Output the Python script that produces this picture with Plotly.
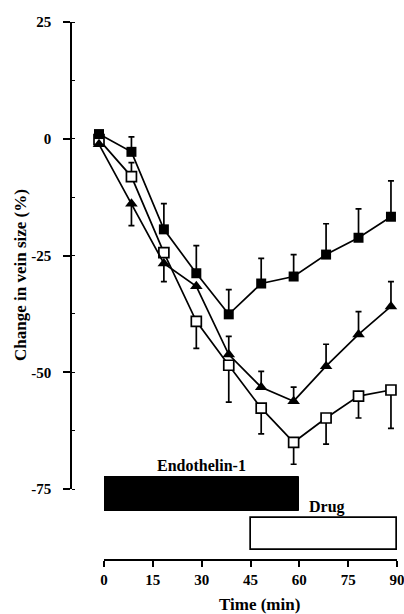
import plotly.graph_objects as go

# Sampling times (min)
time_min = [0, 10, 20, 30, 40, 50, 60, 70, 80, 90]

# Mean change in vein size (%) with one-sided error bars for each group
filled_square = [1.0, -2.8, -19.4, -28.8, -37.6, -31.0, -29.5, -24.8, -21.2, -16.7]
filled_square_err_up = [0, 3.2, 5.5, 5.9, 5.3, 5.4, 4.7, 6.6, 6.2, 7.7]

triangle = [-1.2, -13.9, -26.7, -31.6, -46.2, -53.2, -56.2, -48.7, -41.9, -35.9]
triangle_err_up = [0, 0, 0, 0, 3.9, 3.4, 3.0, 4.7, 4.9, 5.3]
triangle_err_down = [0, 4.7, 3.9, 0, 0, 0, 0, 0, 0, 0]

open_square = [-0.2, -8.1, -24.4, -39.1, -48.5, -57.7, -65.0, -59.8, -55.1, -53.8]
open_square_err_up = [0, 3.0, 0, 0, 0, 0, 0, 0, 0, 0]
open_square_err_down = [0, 0, 0, 5.8, 7.9, 5.5, 4.7, 5.6, 4.7, 8.2]

# Infusion periods (start, end) in minutes
endothelin_period = [0, 60]
drug_period = [45, 90]

y_ticks = [25, 0, -25, -50, -75]
y_tick_text = ["25", "0", "-25", "-50", "-75"]
x_ticks = [0, 15, 30, 45, 60, 75, 90]

W, H = 404, 614
FONT = "Liberation Serif"


def px_x(p):
    return p / W


def px_y(p):
    return 1 - p / H


fig = go.Figure()
line_style = dict(color="black", width=1.7)


def err(up, down=None):
    return dict(type="data", symmetric=False, array=up,
                arrayminus=down if down is not None else [0] * len(up),
                color="black", thickness=1.7, width=3)


fig.add_trace(go.Scatter(
    x=time_min, y=open_square, mode="lines+markers", xaxis="x", yaxis="y",
    line=line_style, error_y=err(open_square_err_up, open_square_err_down),
    marker=dict(symbol="square", size=10, color="white",
                line=dict(color="black", width=1.7)),
    showlegend=False))
fig.add_trace(go.Scatter(
    x=time_min, y=triangle, mode="lines+markers", xaxis="x", yaxis="y",
    line=line_style, error_y=err(triangle_err_up, triangle_err_down),
    marker=dict(symbol="triangle-up", size=11, color="black"),
    showlegend=False))
fig.add_trace(go.Scatter(
    x=time_min, y=filled_square, mode="lines+markers", xaxis="x", yaxis="y",
    line=line_style, error_y=err(filled_square_err_up),
    marker=dict(symbol="square", size=10, color="black"),
    showlegend=False))

# Treatment periods drawn as horizontal bars on the lower time axis
fig.add_trace(go.Bar(
    y=["Endothelin-1"], x=[endothelin_period[1] - endothelin_period[0]],
    base=[endothelin_period[0]], orientation="h", xaxis="x2", yaxis="y2",
    width=0.84, marker=dict(color="black", line=dict(color="black", width=1)),
    showlegend=False))
fig.add_trace(go.Bar(
    y=["Drug"], x=[drug_period[1] - drug_period[0]],
    base=[drug_period[0]], orientation="h", xaxis="x2", yaxis="y2",
    width=0.80, marker=dict(color="white", line=dict(color="black", width=1.7)),
    showlegend=False))

tick_font = dict(family=FONT, size=15, color="black", weight="bold")
label_font = dict(family=FONT, size=16, color="black", weight="bold")

fig.update_layout(
    width=W, height=H, autosize=False,
    margin=dict(l=0, r=0, t=0, b=0, pad=0, autoexpand=False),
    paper_bgcolor="white", plot_bgcolor="rgba(0,0,0,0)",
    xaxis=dict(domain=[px_x(71), 1.0], range=[(71 - 99) / 3.244, (404 - 99) / 3.244],
               visible=False, anchor="y", automargin=False),
    yaxis=dict(domain=[px_y(489), px_y(22)], range=[-75, 25], anchor="free",
               position=px_x(71), automargin=False,
               tickmode="array", tickvals=y_ticks, ticktext=y_tick_text,
               ticks="outside", ticklen=7, tickwidth=1.6, tickcolor="black",
               showline=True, linecolor="black", linewidth=1.7,
               showgrid=False, zeroline=False, tickfont=tick_font,
               ticklabelstandoff=9, ticklabeloverflow="allow",
               minor=dict(tickmode="linear", tick0=0, dtick=12.5, ticks="inside",
                          ticklen=3, tickwidth=1.2, tickcolor="black", showgrid=False)),
    xaxis2=dict(domain=[px_x(104), px_x(397)], range=[0, 90], anchor="free",
                position=px_y(560), automargin=False,
                tickmode="array", tickvals=x_ticks,
                ticks="outside", ticklen=6, tickwidth=1.6, tickcolor="black",
                showline=True, linecolor="black", linewidth=1.7,
                showgrid=False, zeroline=False, tickfont=tick_font,
                ticklabeloverflow="allow"),
    yaxis2=dict(domain=[px_y(560), px_y(460)], anchor="x2", automargin=False,
                type="category", categoryorder="array",
                categoryarray=["Drug", "Endothelin-1"],
                range=[-0.65, 1.85], visible=False),
    bargap=0,
    annotations=[
        dict(text="Change in vein size (%)", textangle=-90, showarrow=False,
             xref="paper", yref="paper", x=px_x(20), y=px_y(275),
             xanchor="center", yanchor="middle",
             font=dict(family=FONT, size=17, color="black", weight="bold")),
        dict(text="Time (min)", showarrow=False, xref="paper", yref="paper",
             x=px_x(259), y=px_y(604), xanchor="center", yanchor="middle",
             font=dict(family=FONT, size=17, color="black", weight="bold")),
        dict(text="Endothelin-1", showarrow=False, xref="x2", yref="paper",
             x=sum(endothelin_period) / 2, y=px_y(465),
             xanchor="center", yanchor="middle", font=label_font),
        dict(text="Drug", showarrow=False, xref="x2", yref="paper",
             x=endothelin_period[1] + 2.3, xanchor="left", y=px_y(507),
             yanchor="middle", font=label_font),
    ],
)

fig.write_html("out.html")
